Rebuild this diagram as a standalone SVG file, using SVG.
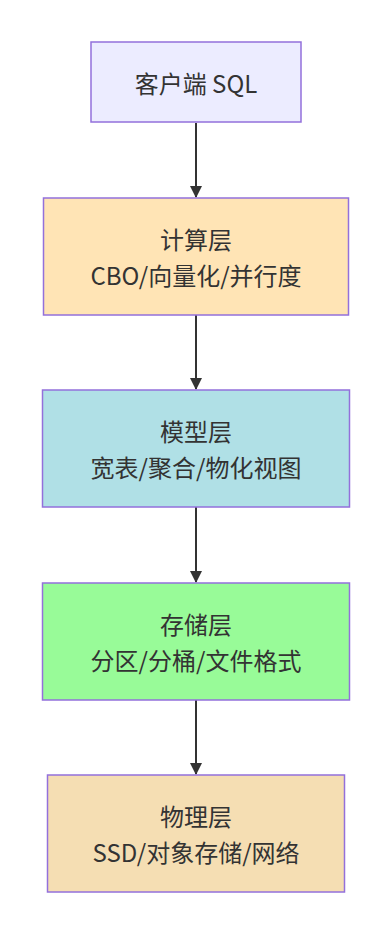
<svg xmlns="http://www.w3.org/2000/svg" width="392" height="936" viewBox="0 0 392 936">
<style>
.n{stroke:#9370DB;stroke-width:1.5}
.t{font-family:"Noto Sans CJK SC","Noto Sans",sans-serif;font-size:24px;fill:#333;text-anchor:middle;dominant-baseline:central}
.e{stroke:#333;stroke-width:2;fill:none}
</style>
<defs>
<marker id="ah" markerWidth="12" markerHeight="12" refX="11" refY="6" orient="auto" markerUnits="userSpaceOnUse">
<path d="M0,0 L12,6 L0,12 z" fill="#333"/>
</marker>
</defs>
<rect width="392" height="936" fill="#fff"/>
<g id="edges">
<line class="e" x1="196" y1="123" x2="196" y2="197" marker-end="url(#ah)"/>
<line class="e" x1="196" y1="315" x2="196" y2="389" marker-end="url(#ah)"/>
<line class="e" x1="196" y1="507" x2="196" y2="582" marker-end="url(#ah)"/>
<line class="e" x1="196" y1="700" x2="196" y2="774" marker-end="url(#ah)"/>
</g>
<g id="client">
<rect class="n" x="91" y="42" width="210" height="80" fill="#ECECFF"/>
<text class="t" x="196" y="82">客户端 SQL</text>
</g>
<g id="compute">
<rect class="n" x="43.5" y="198" width="305" height="117" fill="#FFE4B5"/>
<text class="t" x="196" y="238.5">计算层</text>
<text class="t" x="196" y="274.5">CBO/向量化/并行度</text>
</g>
<g id="model">
<rect class="n" x="42.5" y="390" width="307" height="117" fill="#B0E0E6"/>
<text class="t" x="196" y="430.5">模型层</text>
<text class="t" x="196" y="466.5">宽表/聚合/物化视图</text>
</g>
<g id="storage">
<rect class="n" x="42.5" y="583" width="307" height="117" fill="#98FB98"/>
<text class="t" x="196" y="623.5">存储层</text>
<text class="t" x="196" y="659.5">分区/分桶/文件格式</text>
</g>
<g id="physical">
<rect class="n" x="47.5" y="775" width="297" height="117" fill="#F5DEB3"/>
<text class="t" x="196" y="815.5">物理层</text>
<text class="t" x="196" y="851.5">SSD/对象存储/网络</text>
</g>
</svg>
